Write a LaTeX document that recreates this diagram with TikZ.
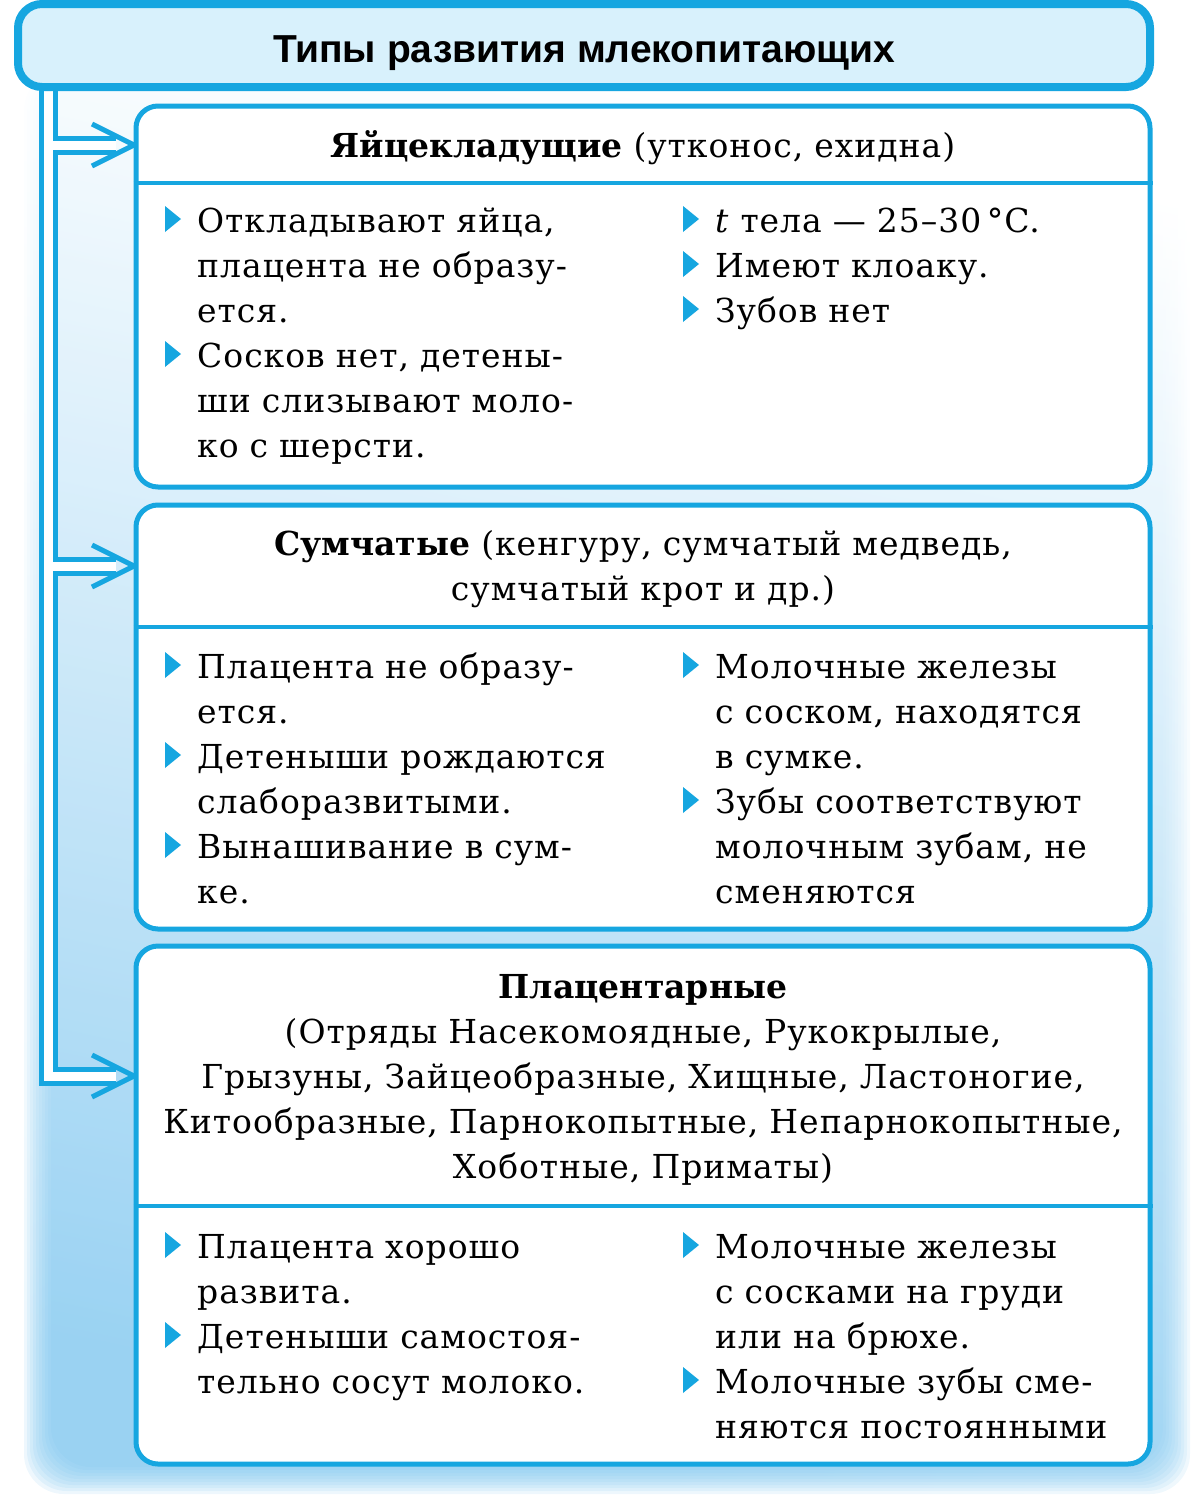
\documentclass[tikz,border=0pt]{standalone}
\usepackage{fontspec}
\setmainfont{DejaVuSerif}[Extension=.ttf, BoldFont=*-Bold, ItalicFont=*-Italic, LetterSpace=3, BoldFeatures={LetterSpace=0}]
\newfontfamily\headfont{Liberation Sans}
\usetikzlibrary{positioning, arrows.meta}
\definecolor{mainblue}{RGB}{22,166,224}
\definecolor{headfill}{RGB}{216,241,252}
\definecolor{glowblue}{RGB}{120,195,238}
\newcommand{\tbf}[1]{\textbf{#1}}
\newcommand{\tit}[1]{\textit{#1}}
\newcommand{\bul}[1]{\fill[mainblue] ([xshift=-32pt]#1.base west) -- ++(16,-13) -- ++(-16,-13) -- cycle;}

\begin{document}
\begin{tikzpicture}[x=1pt, y=-1pt,
	glow/.style={top color=white, bottom color=glowblue, shading angle=-12, fill opacity=0.13, rounded corners=40pt},
	head/.style={draw=mainblue, line width=8pt, fill=headfill, rounded corners=24pt, minimum width=1132pt, minimum height=83pt, text height=33pt, text depth=0pt, font=\headfont\bfseries\fontsize{39}{45}\selectfont},
	conout/.style={draw=mainblue, line width=19pt},
	conin/.style={draw=white, line width=9pt},
	chev/.style={draw=mainblue, line width=5pt},
	box/.style={draw=mainblue, line width=5pt, fill=white, rounded corners=22pt, minimum width=1014pt, inner sep=0pt},
	divline/.style={draw=mainblue, line width=4pt},
	title/.style={inner sep=0pt, anchor=base, text width=1010pt, align=center, font=\fontsize{33}{45}\selectfont},
	item/.style={inner sep=0pt, anchor=base west, text width=470pt, align=left, font=\fontsize{33}{45}\selectfont}]
	\useasboundingbox (0,0) rectangle (1196,1505);

	% soft blue glow behind the boxes
	\foreach \k in {0,...,9}
		\shade[glow] (24+3*\k, 70) rectangle (1190-3*\k, 1494-3*\k);

	\coordinate (trunk) at (48.5,0);
	\coordinate (j1) at (136,145);
	\coordinate (j2) at (136,566);
	\coordinate (j3) at (136,1076);
	\coordinate (topend) at (0,45);

	% hollow connector
	\draw[conout] (trunk |- topend) -- (trunk |- j3) -- ([xshift=-20pt]j3);
	\draw[conout] (trunk |- j1) -- ([xshift=-20pt]j1);
	\draw[conout] (trunk |- j2) -- ([xshift=-20pt]j2);
	\draw[conin] (trunk |- topend) -- (trunk |- j3) -- ([xshift=-20pt]j3);
	\draw[conin] (trunk |- j1) -- ([xshift=-20pt]j1);
	\draw[conin] (trunk |- j2) -- ([xshift=-20pt]j2);
	\draw[chev] ([shift={(-44,-21)}]j1) -- ([xshift=-2pt]j1) -- ([shift={(-44,21)}]j1);
	\draw[chev] ([shift={(-44,-21)}]j2) -- ([xshift=-2pt]j2) -- ([shift={(-44,21)}]j2);
	\draw[chev] ([shift={(-44,-21)}]j3) -- ([xshift=-2pt]j3) -- ([shift={(-44,21)}]j3);

	\node[head] (header) at (584,45.5) {Типы развития млекопитающих};

	% egg-laying
	\node[box, minimum height=381pt] (box1) at (643,296.5) {};
	\coordinate (d1) at (0,183);
	\draw[divline] (box1.west |- d1) -- (box1.east |- d1);
	\node[title] (title1) at (643,157) {\tbf{Яйцекладущие} (утконос, ехидна)};
	\node[item] (a1) at (197,232) {Откладывают яйца,\\плацента не образу-\\ется.};
	\node[item] (a2) at (197,367) {Сосков нет, детены-\\ши слизывают моло-\\ко с шерсти.};
	\node[item, text width=430pt] (a3) at (715,232) {\tit{t} тела — 25–30\,°C.};
	\node[item, text width=430pt] (a4) at (715,277) {Имеют клоаку.};
	\node[item, text width=430pt] (a5) at (715,322) {Зубов нет};
	\bul{a1} \bul{a2} \bul{a3} \bul{a4} \bul{a5}

	% marsupials
	\node[box, minimum height=424pt] (box2) at (643,717) {};
	\coordinate (d2) at (0,627);
	\draw[divline] (box2.west |- d2) -- (box2.east |- d2);
	\node[title] (title2) at (643,555) {\tbf{Сумчатые} (кенгуру, сумчатый медведь,\\сумчатый крот и др.)};
	\node[item] (b1) at (197,678) {Плацента не образу-\\ется.};
	\node[item] (b2) at (197,768) {Детеныши рождаются\\слаборазвитыми.};
	\node[item] (b3) at (197,858) {Вынашивание в сум-\\ке.};
	\node[item, text width=430pt] (b4) at (715,678) {Молочные железы\\с соском, находятся\\в сумке.};
	\node[item, text width=430pt] (b5) at (715,813) {Зубы соответствуют\\молочным зубам, не\\сменяются};
	\bul{b1} \bul{b2} \bul{b3} \bul{b4} \bul{b5}

	% placentals
	\node[box, minimum height=518pt] (box3) at (643,1205) {};
	\coordinate (d3) at (0,1206);
	\draw[divline] (box3.west |- d3) -- (box3.east |- d3);
	\node[title] (title3) at (643,998) {\tbf{Плацентарные}\\(Отряды Насекомоядные, Рукокрылые,\\Грызуны, Зайцеобразные, Хищные, Ластоногие,\\Китообразные, Парнокопытные, Непарнокопытные,\\Хоботные, Приматы)};
	\node[item] (c1) at (197,1258) {Плацента хорошо\\развита.};
	\node[item] (c2) at (197,1348) {Детеныши самостоя-\\тельно сосут молоко.};
	\node[item, text width=430pt] (c3) at (715,1258) {Молочные железы\\с сосками на груди\\или на брюхе.};
	\node[item, text width=430pt] (c4) at (715,1393) {Молочные зубы сме-\\няются постоянными};
	\bul{c1} \bul{c2} \bul{c3} \bul{c4}
\end{tikzpicture}
\end{document}
